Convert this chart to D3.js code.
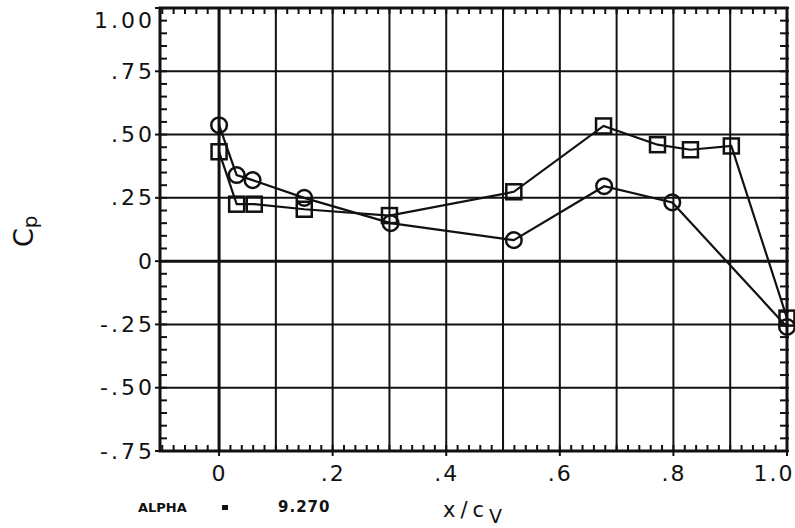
<!DOCTYPE html>
<html><head><meta charset="utf-8">
<script src="https://cdn.jsdelivr.net/npm/d3@7"></script>
<style>body{margin:0;background:#fff}svg{display:block}</style>
</head><body>
<svg id="c" width="795" height="528"></svg>
<script>
// Data
const circleX = [0, 0.031, 0.059, 0.15, 0.302, 0.519, 0.678, 0.798, 1.0];
const circleY = [0.537, 0.34, 0.32, 0.25, 0.15, 0.083, 0.296, 0.232, -0.26];
const squareX = [0, 0.031, 0.062, 0.15, 0.30, 0.519, 0.677, 0.772, 0.83, 0.902, 1.0];
const squareY = [0.432, 0.225, 0.225, 0.205, 0.18, 0.274, 0.534, 0.46, 0.44, 0.455, -0.225];
const xTickValues = [0, 0.2, 0.4, 0.6, 0.8, 1.0];
const xTickLabels = ["0", ".2", ".4", ".6", ".8", "1.0"];
const yTickValues = [1.0, 0.75, 0.5, 0.25, 0, -0.25, -0.5, -0.75];
const yTickLabels = ["1.00", ".75", ".50", ".25", "0", "-.25", "-.50", "-.75"];
const xGrid = [0.1, 0.2, 0.3, 0.4, 0.5, 0.6, 0.7, 0.8, 0.9];
const yGrid = [0.75, 0.5, 0.25, -0.25, -0.5];
const alphaValue = "9.270";

const svg = d3.select("#c");
const L = 160, R = 787, T = 8, B = 451;
const x = d3.scaleLinear().domain([-0.104, 1.0]).range([L, R]);
const y = d3.scaleLinear().domain([-0.75, 1.0]).range([B, T]);
const ink = "#111";

// grid
svg.append("g").selectAll("line").data(xGrid).join("line")
  .attr("x1", d => x(d)).attr("x2", d => x(d)).attr("y1", T).attr("y2", B)
  .attr("stroke", ink).attr("stroke-width", 2);
svg.append("g").selectAll("line").data(yGrid).join("line")
  .attr("y1", d => y(d)).attr("y2", d => y(d)).attr("x1", L).attr("x2", R)
  .attr("stroke", ink).attr("stroke-width", 2);
// zero lines
svg.append("line").attr("x1", x(0)).attr("x2", x(0)).attr("y1", T).attr("y2", B)
  .attr("stroke", ink).attr("stroke-width", 3);
svg.append("line").attr("y1", y(0)).attr("y2", y(0)).attr("x1", L).attr("x2", R)
  .attr("stroke", ink).attr("stroke-width", 3);

// minor ticks
const xMinor = d3.range(-50, 51).map(i => i * 0.02).filter(v => v > -0.104 && v <= 1.0001);
const yMinor = d3.range(-15, 21).map(i => i * 0.05);
const mt = svg.append("g").attr("stroke", ink).attr("stroke-width", 2);
mt.selectAll(".tb").data(xMinor).join("line").attr("class", "tb")
  .attr("x1", d => x(d)).attr("x2", d => x(d)).attr("y1", B).attr("y2", B - 6);
mt.selectAll(".tt").data(xMinor).join("line").attr("class", "tt")
  .attr("x1", d => x(d)).attr("x2", d => x(d)).attr("y1", T).attr("y2", T + 6);
mt.selectAll(".tl").data(yMinor).join("line").attr("class", "tl")
  .attr("y1", d => y(d)).attr("y2", d => y(d)).attr("x1", L).attr("x2", L + 7);
mt.selectAll(".tr").data(yMinor).join("line").attr("class", "tr")
  .attr("y1", d => y(d)).attr("y2", d => y(d)).attr("x1", R - 7).attr("x2", R + 2);

// frame
svg.append("rect").attr("x", L).attr("y", T).attr("width", R - L).attr("height", B - T)
  .attr("fill", "none").attr("stroke", ink).attr("stroke-width", 3);
svg.append("g").selectAll("line").data(yTickValues).join("line")
  .attr("y1", d => y(d)).attr("y2", d => y(d)).attr("x1", L - 5).attr("x2", L)
  .attr("stroke", ink).attr("stroke-width", 2);
svg.append("g").selectAll("line").data(xTickValues).join("line")
  .attr("x1", d => x(d)).attr("x2", d => x(d)).attr("y1", B).attr("y2", B + 5)
  .attr("stroke", ink).attr("stroke-width", 2);

// axes labels via d3 axes
const fontFam = "'DejaVu Sans', 'Liberation Sans', sans-serif";
const xa = svg.append("g").attr("transform", `translate(0,${B})`)
  .call(d3.axisBottom(x).tickValues(xTickValues).tickFormat((d, i) => xTickLabels[i]).tickSize(0).tickPadding(14));
xa.select(".domain").remove();
xa.selectAll("text").attr("font-family", fontFam).attr("font-size", 22).attr("fill", ink)
  .attr("letter-spacing", 2);
xa.selectAll("text").filter(d => d === 1.0).attr("text-anchor", "start").attr("x", 753 - x(1.0)).attr("letter-spacing", 2);
const ya = svg.append("g").attr("transform", `translate(${L},0)`)
  .call(d3.axisLeft(y).tickValues(yTickValues).tickFormat((d, i) => yTickLabels[i]).tickSize(0).tickPadding(5));
ya.select(".domain").remove();
ya.selectAll("text").attr("font-family", fontFam).attr("font-size", 22).attr("fill", ink)
  .attr("letter-spacing", 3);
ya.selectAll("text").filter(d => d === 1.0).attr("dy", "0.32em").attr("y", 12);

// series lines
const line = d3.line().x(d => x(d[0])).y(d => y(d[1]));
const cData = circleX.map((v, i) => [v, circleY[i]]);
const sData = squareX.map((v, i) => [v, squareY[i]]);
svg.append("path").datum(cData).attr("d", line).attr("fill", "none").attr("stroke", ink).attr("stroke-width", 2.2);
svg.append("path").datum(sData).attr("d", line).attr("fill", "none").attr("stroke", ink).attr("stroke-width", 2.2);

// markers
svg.append("g").selectAll("rect").data(sData).join("rect")
  .attr("x", d => x(d[0]) - 7.5).attr("y", d => y(d[1]) - 7.5).attr("width", 15).attr("height", 15)
  .attr("fill", "none").attr("stroke", ink).attr("stroke-width", 2.5);
svg.append("g").selectAll("circle").data(cData).join("circle")
  .attr("cx", d => x(d[0])).attr("cy", d => y(d[1])).attr("r", 7.8)
  .attr("fill", "none").attr("stroke", ink).attr("stroke-width", 2.5);

// y label C_p
const yl = svg.append("text").attr("transform", "translate(33,247) rotate(-90)")
  .attr("font-family", fontFam).attr("font-size", 27).attr("fill", ink).attr("text-anchor", "start");
yl.append("tspan").text("C");
yl.append("tspan").attr("font-size", 20).attr("dy", 4).text("p");

// x label
const xl = svg.append("text").attr("x", 443).attr("y", 517)
  .attr("font-family", fontFam).attr("font-size", 21).attr("fill", ink).attr("letter-spacing", 5);
xl.append("tspan").text("x/c");
xl.append("tspan").attr("dy", 6).attr("font-size", 19).attr("letter-spacing", 0).text("V");

// alpha annotation
svg.append("text").attr("x", 138).attr("y", 512).attr("font-family", fontFam)
  .attr("font-size", 13).attr("font-weight", "bold").attr("fill", ink).text("ALPHA");
svg.append("rect").attr("x", 222).attr("y", 505).attr("width", 6).attr("height", 5).attr("fill", ink);
svg.append("text").attr("x", 278).attr("y", 512).attr("font-family", fontFam)
  .attr("font-size", 15).attr("font-weight", "bold").attr("fill", ink).attr("letter-spacing", 1).text(alphaValue);
</script>
</body></html>
